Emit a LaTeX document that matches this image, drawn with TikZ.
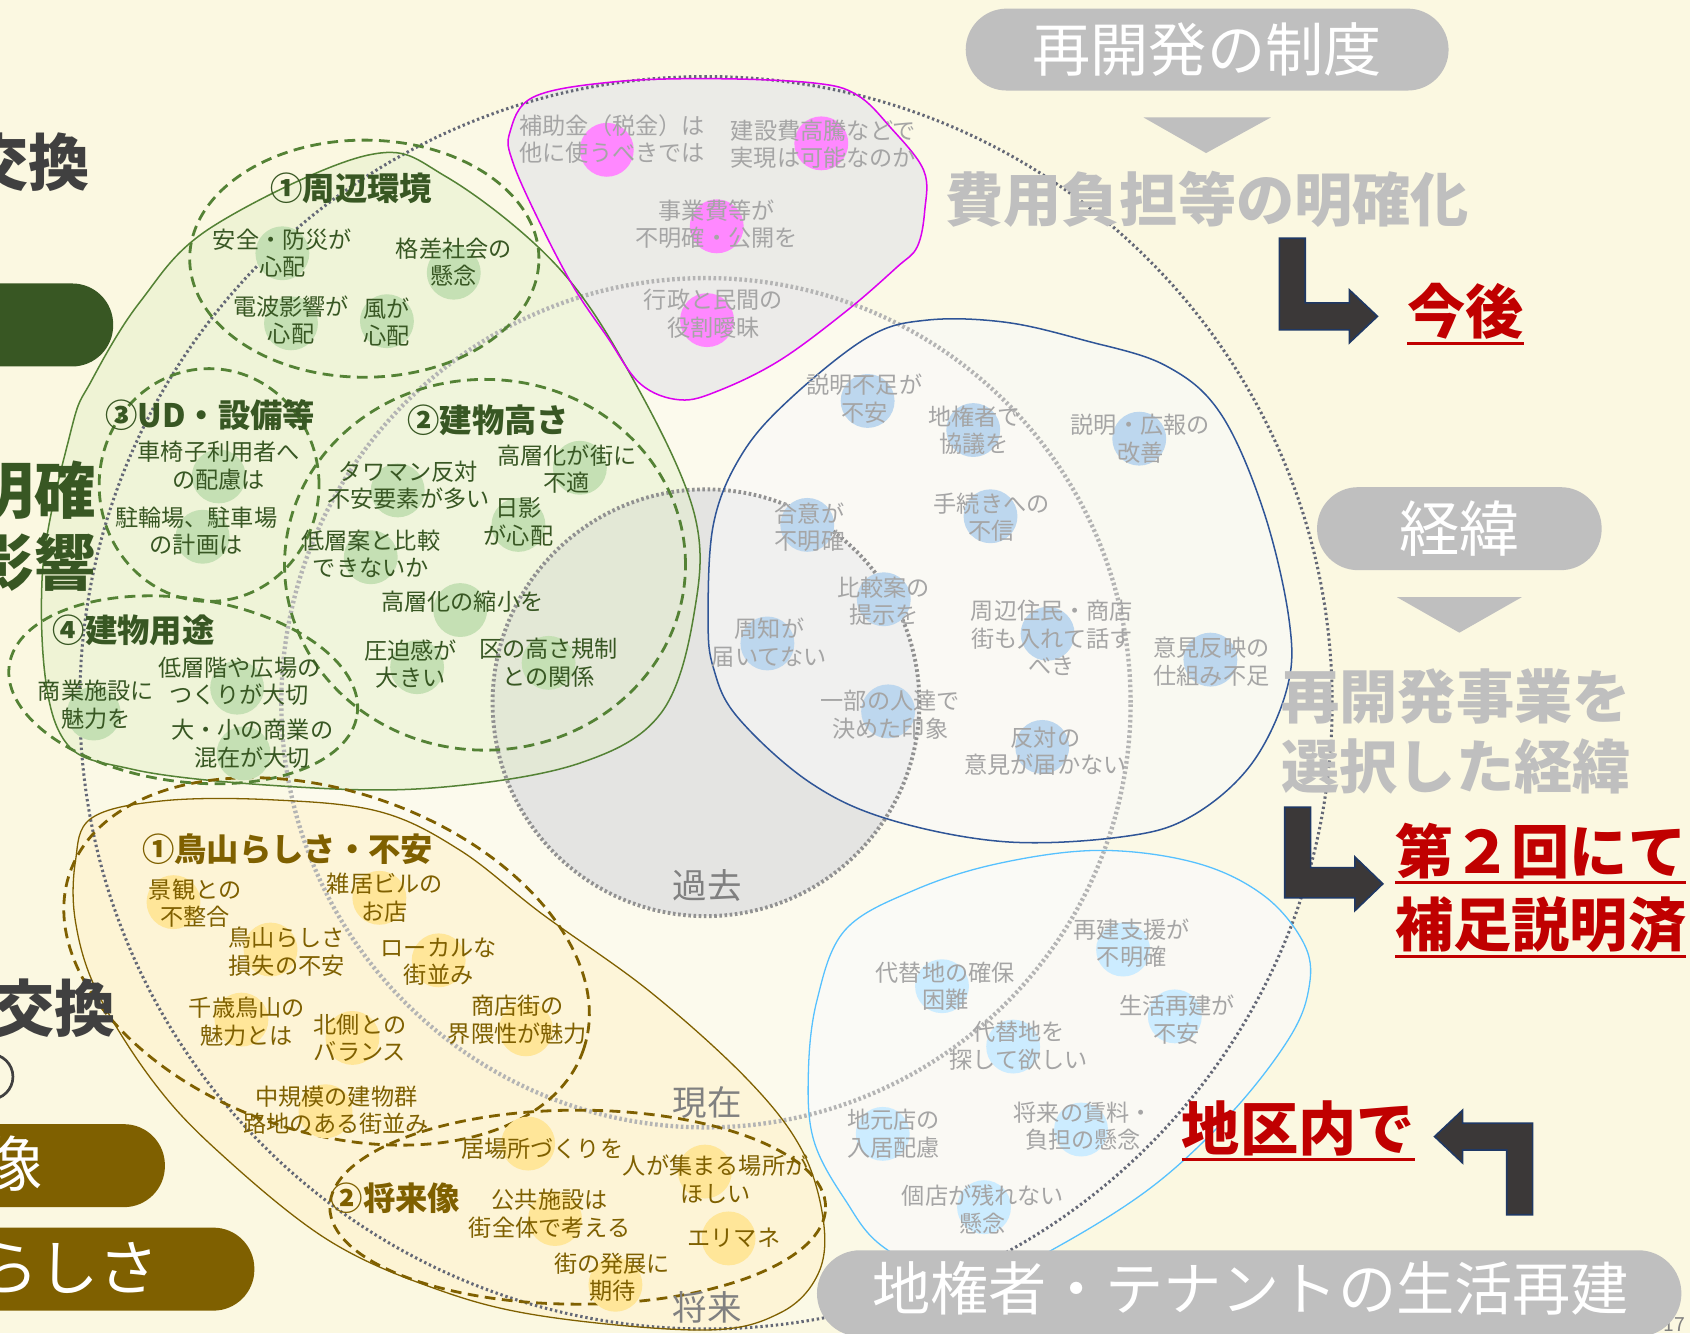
\documentclass[tikz,border=0pt]{standalone}
\usepackage{fontspec}
\setmainfont{Noto Sans CJK JP}
\definecolor{bgc}{RGB}{251,248,225}
\definecolor{gdark}{RGB}{56,87,35}
\definecolor{gline}{RGB}{84,130,53}
\definecolor{gfill}{RGB}{226,239,200}
\definecolor{gdotc}{RGB}{197,224,180}
\definecolor{bdark}{RGB}{127,96,0}
\definecolor{yfill}{RGB}{255,242,204}
\definecolor{ydotc}{RGB}{255,230,153}
\definecolor{mline}{RGB}{220,0,240}
\definecolor{mdotc}{RGB}{255,136,255}
\definecolor{navy}{RGB}{47,85,151}
\definecolor{bdotc}{RGB}{189,215,238}
\definecolor{skyl}{RGB}{86,193,255}
\definecolor{cdotc}{RGB}{204,236,255}
\definecolor{itemgray}{RGB}{165,165,165}
\definecolor{pillgray}{RGB}{191,191,191}
\definecolor{lblgray}{RGB}{128,128,128}
\definecolor{redc}{RGB}{192,0,0}
\definecolor{arrfill}{RGB}{59,56,56}
\definecolor{arrline}{RGB}{31,56,100}
\definecolor{darktxt}{RGB}{64,64,64}
\definecolor{outdot}{RGB}{100,104,118}
\definecolor{indot}{RGB}{180,180,180}
\definecolor{pastdot}{RGB}{145,145,145}
\definecolor{pastfill}{RGB}{228,228,226}
\tikzset{
 itm/.style={font=\fontsize{21.5}{25.5}\selectfont, align=center, inner sep=0pt},
 gitm/.style={itm,text=gdark},
 yitm/.style={itm,text=bdark},
 xitm/.style={itm,text=itemgray},
 ttl/.style={font=\fontsize{30}{34}\selectfont\bfseries, inner sep=0pt},
 gttl/.style={ttl,text=gdark},
 yttl/.style={ttl,text=bdark},
 dotbase/.style={circle,minimum size=50pt,inner sep=0pt,draw=none},
 gdot/.style={dotbase,fill=gdotc},
 ydot/.style={dotbase,fill=ydotc},
 mdot/.style={dotbase,fill=mdotc},
 bdot/.style={dotbase,fill=bdotc},
 cdot/.style={dotbase,fill=cdotc},
 bigtxt/.style={font=\fontsize{54}{60}\selectfont, inner sep=0pt},
 bigbold/.style={font=\fontsize{54}{60}\selectfont\bfseries, inner sep=0pt},
 redt/.style={bigbold, text=redc},
 uline/.style={redc, line width=2.8pt},
 tri/.style={fill=pillgray},
 arr/.style={fill=arrfill, draw=arrline, line width=1.5pt, line join=miter},
 pill/.style={rectangle, fill=pillgray, rounded corners=38pt, inner sep=0pt},
 gdash/.style={draw=gline, line width=2.6pt, dash pattern=on 10pt off 6pt},
 ydash/.style={draw=bdark, line width=2.6pt, dash pattern=on 10pt off 6pt},
 era/.style={font=\fontsize{32}{36}\selectfont, text=lblgray, inner sep=0pt},
 lefttxt/.style={font=\fontsize{57}{62}\selectfont\bfseries, inner sep=0pt, anchor=east},
}
\begin{document}
\begin{tikzpicture}[x=1pt,y=-1pt]
\useasboundingbox (0,0) rectangle (1568,1237);
\clip (0,0) rectangle (1568,1237);
\fill[bgc] (0,0) rectangle (1568,1237);

% concentric time circles (fills)
\fill[white, fill opacity=0.18] (655,652) circle [radius=581pt];
\fill[white, fill opacity=0.30] (655,652) circle [radius=394pt];
\fill[pastfill] (655,652) circle [radius=198pt];

% blob fills
\fill[gfill, fill opacity=0.45] plot[smooth cycle, tension=0.6] coordinates {(341,144) (414,164) (517,247) (588,353) (644,476) (644,569) (613,662) (538,708) (414,730) (290,731) (124,714) (54,677) (39,538) (66,399) (85,353) (130,280) (196,211)};
\fill[yfill, fill opacity=0.6] plot[smooth cycle, tension=0.6] coordinates {(85,759) (151,743) (251,742) (352,753) (427,789) (503,848) (603,920) (694,1002) (744,1067) (764,1133) (759,1182) (724,1218) (654,1234) (503,1221) (402,1195) (302,1149) (201,1067) (141,1002) (90,920) (70,855) (70,799)};
\fill[gray!18, fill opacity=0.8] plot[smooth cycle, tension=0.6] coordinates {(473,123) (495,90) (569,76) (662,73) (755,77) (795,88) (826,118) (857,158) (858,195) (851,229) (832,248) (786,288) (724,334) (668,362) (631,371) (594,356) (563,312) (532,266) (501,207) (476,151)};
\fill[white!95!gray, fill opacity=0.6] plot[smooth cycle, tension=0.6] coordinates {(657,575) (662,620) (684,665) (750,725) (824,760) (933,781) (1044,776) (1106,757) (1161,709) (1194,639) (1196,575) (1172,473) (1132,383) (1081,339) (1007,316) (933,299) (860,297) (805,313) (732,371) (688,422) (662,486)};
\fill[white!96!gray, fill opacity=0.7] plot[smooth cycle, tension=0.6] coordinates {(784,863) (848,826) (927,801) (1021,789) (1111,801) (1174,832) (1211,878) (1214,919) (1195,965) (1142,1033) (1069,1101) (979,1158) (900,1195) (821,1158) (784,1113) (755,1058) (750,996) (758,928)};

% dotted circle outlines
\draw[outdot, line width=2.8pt, dash pattern=on 2.2pt off 2.6pt] (655,652) circle [radius=581pt];
\draw[indot, line width=4pt, dash pattern=on 2.4pt off 2.4pt] (655,652) circle [radius=394pt];
\draw[pastdot, line width=3.6pt, dash pattern=on 2.4pt off 2.4pt] (655,652) circle [radius=198pt];

% blob outlines
\draw[gline, line width=1.4pt] plot[smooth cycle, tension=0.6] coordinates {(341,144) (414,164) (517,247) (588,353) (644,476) (644,569) (613,662) (538,708) (414,730) (290,731) (124,714) (54,677) (39,538) (66,399) (85,353) (130,280) (196,211)};
\draw[bdark, line width=1.2pt] plot[smooth cycle, tension=0.6] coordinates {(85,759) (151,743) (251,742) (352,753) (427,789) (503,848) (603,920) (694,1002) (744,1067) (764,1133) (759,1182) (724,1218) (654,1234) (503,1221) (402,1195) (302,1149) (201,1067) (141,1002) (90,920) (70,855) (70,799)};
\draw[mline, line width=1.4pt] plot[smooth cycle, tension=0.6] coordinates {(473,123) (495,90) (569,76) (662,73) (755,77) (795,88) (826,118) (857,158) (858,195) (851,229) (832,248) (786,288) (724,334) (668,362) (631,371) (594,356) (563,312) (532,266) (501,207) (476,151)};
\draw[navy, line width=1.4pt] plot[smooth cycle, tension=0.6] coordinates {(657,575) (662,620) (684,665) (750,725) (824,760) (933,781) (1044,776) (1106,757) (1161,709) (1194,639) (1196,575) (1172,473) (1132,383) (1081,339) (1007,316) (933,299) (860,297) (805,313) (732,371) (688,422) (662,486)};
\draw[skyl, line width=1.2pt] plot[smooth cycle, tension=0.6] coordinates {(784,863) (848,826) (927,801) (1021,789) (1111,801) (1174,832) (1211,878) (1214,919) (1195,965) (1142,1033) (1069,1101) (979,1158) (900,1195) (821,1158) (784,1113) (755,1058) (750,996) (758,928)};

% dashed sub-group ellipses
\draw[gdash] (338,240) ellipse [x radius=162pt, y radius=110pt];
\draw[gdash] (194,450) ellipse [x radius=102pt, y radius=108pt];
\draw[gdash] (450,524) ellipse [x radius=186pt, y radius=172pt];
\draw[gdash, rotate around={-8:(170,640)}] (170,640) ellipse [x radius=163pt, y radius=85pt];
\draw[ydash, rotate around={-19:(303,892)}] (303,892) ellipse [x radius=252pt, y radius=158pt];
\draw[ydash] (536,1120) ellipse [x radius=230pt, y radius=90pt];

% item dots
\node[gdot] (g1d) at (262,235) {};
\node[gdot] (g2d) at (421,253) {};
\node[gdot] (g3d) at (270,300) {};
\node[gdot] (g4d) at (359,298) {};
\node[gdot] (g5d) at (203,442) {};
\node[gdot] (g6d) at (188,498) {};
\node[gdot] (g7d) at (369,455) {};
\node[gdot] (g8d) at (538,434) {};
\node[gdot] (g9d) at (481,487) {};
\node[gdot] (g10d) at (344,517) {};
\node[gdot] (g11d) at (427,566) {};
\node[gdot] (g12d) at (387,619) {};
\node[gdot] (g13d) at (509,615) {};
\node[gdot] (g14d) at (87,662) {};
\node[gdot] (g15d) at (220,638) {};
\node[gdot] (g16d) at (226,699) {};

\node[mdot] (p1d) at (563,139) {};
\node[mdot] (p2d) at (762,133) {};
\node[mdot] (p3d) at (665,210) {};
\node[mdot] (p4d) at (656,297) {};

\node[bdot] (b1d) at (805,372) {};
\node[bdot] (b2d) at (903,399) {};
\node[bdot] (b3d) at (1057,407) {};
\node[bdot] (b4d) at (749,487) {};
\node[bdot] (b5d) at (919,479) {};
\node[bdot] (b6d) at (820,556) {};
\node[bdot] (b7d) at (712,597) {};
\node[bdot] (b8d) at (972,588) {};
\node[bdot] (b9d) at (1123,612) {};
\node[bdot] (b10d) at (824,660) {};
\node[bdot] (b11d) at (967,693) {};

\node[cdot] (c1d) at (1042,881) {};
\node[cdot] (c2d) at (874,915) {};
\node[cdot] (c3d) at (1090,943) {};
\node[cdot] (c4d) at (940,971) {};
\node[cdot] (c5d) at (819,1052) {};
\node[cdot] (c6d) at (1003,1048) {};
\node[cdot] (c7d) at (913,1120) {};

\node[ydot] (y1d) at (161,837) {};
\node[ydot] (y2d) at (352,833) {};
\node[ydot] (y3d) at (251,881) {};
\node[ydot] (y4d) at (407,891) {};
\node[ydot] (y5d) at (224,946) {};
\node[ydot] (y6d) at (327,963) {};
\node[ydot] (y7d) at (488,955) {};
\node[ydot] (y8d) at (302,1031) {};
\node[ydot] (y9d) at (490,1061) {};
\node[ydot] (y10d) at (654,1087) {};
\node[ydot] (y11d) at (515,1131) {};
\node[ydot] (y12d) at (676,1149) {};
\node[ydot] (y13d) at (571,1192) {};

% era labels
\node[era] (past) at (656,822) {過去};
\node[era] (now) at (656,1023) {現在};
\node[era] (future) at (656,1213) {将来};

% green group texts
\node[gttl] (gt1) at (326,175) {①周辺環境};
\node[gitm] (g1) at (262,235) {安全・防災が\\心配};
\node[gitm] (g2) at (421,243) {格差社会の\\懸念};
\node[gitm] (g3) at (270,297) {電波影響が\\心配};
\node[gitm] (g4) at (359,299) {風が\\心配};
\node[gttl] (gt3) at (195,385) {③UD・設備等};
\node[gitm] (g5) at (203,432) {車椅子利用者へ\\の配慮は};
\node[gitm] (g6) at (182,493) {駐輪場、駐車場\\の計画は};
\node[gttl] (gt2) at (453,390) {②建物高さ};
\node[gitm] (g7) at (379,450) {タワマン反対\\不安要素が多い};
\node[gitm] (g8) at (526,435) {高層化が街に\\不適};
\node[gitm] (g9) at (481,484) {日影\\が心配};
\node[gitm] (g10) at (344,514) {低層案と比較\\できないか};
\node[gitm] (g11) at (429,558) {高層化の縮小を};
\node[gitm] (g12) at (381,616) {圧迫感が\\大きい};
\node[gitm] (g13) at (509,615) {区の高さ規制\\との関係};
\node[gttl] (gt4) at (124,585) {④建物用途};
\node[gitm] (g14) at (89,654) {商業施設に\\魅力を};
\node[gitm] (g15) at (222,632) {低層階や広場の\\つくりが大切};
\node[gitm] (g16) at (234,690) {大・小の商業の\\混在が大切};

% purple group texts
\node[xitm] (p1) at (568,129) {補助金（税金）は\\他に使うべきでは};
\node[xitm] (p2) at (764,134) {建設費高騰などで\\実現は可能なのか};
\node[xitm] (p3) at (665,208) {事業費等が\\不明確・公開を};
\node[xitm] (p4) at (662,291) {行政と民間の\\役割曖昧};

% blue group texts
\node[xitm] (b1) at (802,370) {説明不足が\\不安};
\node[xitm] (b2) at (904,399) {地権者で\\協議を};
\node[xitm] (b3) at (1058,407) {説明・広報の\\改善};
\node[xitm] (b4) at (751,489) {合意が\\不明確};
\node[xitm] (b5) at (920,480) {手続きへの\\不信};
\node[xitm] (b6) at (820,558) {比較案の\\提示を};
\node[xitm] (b7) at (714,596) {周知が\\届いてない};
\node[xitm] (b8) at (976,592) {周辺住民・商店\\街も入れて話す\\べき};
\node[xitm] (b9) at (1124,614) {意見反映の\\仕組み不足};
\node[xitm] (b10) at (826,663) {一部の人達で\\決めた印象};
\node[xitm] (b11) at (970,697) {反対の\\意見が届かない};

% light-blue group texts
\node[xitm] (c1) at (1050,875) {再建支援が\\不明確};
\node[xitm] (c2) at (877,915) {代替地の確保\\困難};
\node[xitm] (c3) at (1092,946) {生活再建が\\不安};
\node[xitm] (c4) at (945,970) {代替地を\\探して欲しい};
\node[xitm] (c5) at (829,1052) {地元店の\\入居配慮};
\node[xitm] (c6) at (1005,1045) {将来の賃料・\\負担の懸念};
\node[xitm] (c7) at (912,1122) {個店が残れない\\懸念};

% brown group texts
\node[yttl] (yt1) at (267,788) {①鳥山らしさ・不安};
\node[yitm] (y1) at (181,838) {景観との\\不整合};
\node[yitm] (y2) at (357,833) {雑居ビルの\\お店};
\node[yitm] (y3) at (266,883) {鳥山らしさ\\損失の不安};
\node[yitm] (y4) at (407,892) {ローカルな\\街並み};
\node[yitm] (y5) at (229,948) {千歳鳥山の\\魅力とは};
\node[yitm] (y6) at (334,963) {北側との\\バランス};
\node[yitm] (y7) at (480,946) {商店街の\\界隈性が魅力};
\node[yitm] (y8) at (312,1030) {中規模の建物群\\路地のある街並み};
\node[yttl] (yt2) at (367,1112) {②将来像};
\node[yitm] (y9) at (503,1066) {居場所づくりを};
\node[yitm] (y10) at (664,1094) {人が集まる場所が\\ほしい};
\node[yitm] (y11) at (510,1126) {公共施設は\\街全体で考える};
\node[yitm] (y12) at (681,1148) {エリマネ};
\node[yitm] (y13) at (568,1185) {街の発展に\\期待};

% right side: 再開発の制度
\node[pill, minimum width=448pt, minimum height=76pt] (pill1) at (1120,46) {};
\node[bigtxt, text=white] (pill1t) at (1120,46) {再開発の制度};
\fill[tri] (1061,109) -- (1179,109) -- (1119,142) -- cycle;
\node[bigbold, text=pillgray] (cost) at (1120,185) {費用負担等の明確化};
\draw[arr] (1187,221) -- (1211,221) -- (1211,281) -- (1252,281) -- (1252,269) -- (1278,293.5) -- (1252,318) -- (1252,306) -- (1187,306) -- cycle;
\node[redt] (kongo) at (1360,289) {今後};
\draw[uline] ([yshift=-3pt]kongo.south west) -- ([yshift=-3pt]kongo.south east);

% 経緯
\node[pill, minimum width=264pt, minimum height=77pt] (pill2) at (1354,490.5) {};
\node[font=\fontsize{56}{62}\selectfont, inner sep=0pt, text=white] (pill2t) at (1354,490) {経緯};
\fill[tri] (1296,554) -- (1412,554) -- (1354,587) -- cycle;
\node[bigbold, text=pillgray] (hist1) at (1351,646) {再開発事業を};
\node[bigbold, text=pillgray] (hist2) at (1351,711) {選択した経緯};
\draw[arr] (1192,749) -- (1216,749) -- (1216,805) -- (1257,805) -- (1257,795) -- (1283,820) -- (1257,845) -- (1257,833) -- (1192,833) -- cycle;
\node[redt] (dai2) at (1429.5,790) {第２回にて};
\draw[uline] ([yshift=-3pt]dai2.south west) -- ([yshift=-3pt]dai2.south east);
\node[redt] (hosoku) at (1429.5,858) {補足説明済};
\draw[uline] ([yshift=-3pt]hosoku.south west) -- ([yshift=-3pt]hosoku.south east);

% 地区内で
\node[redt] (chiku) at (1204.5,1047) {地区内で};
\draw[uline] ([yshift=-3pt]chiku.south west) -- ([yshift=-3pt]chiku.south east);
\draw[arr] (1422,1042) -- (1422,1127) -- (1398,1127) -- (1398,1067) -- (1357,1067) -- (1357,1079) -- (1331,1054.5) -- (1357,1030) -- (1357,1042) -- cycle;

% page number (mostly hidden under the pill)
\node[font=\fontsize{18}{20}\selectfont, text=lblgray, inner sep=0pt, anchor=north west] (pgno) at (1543,1222) {17};
% 生活再建 pill
\node[pill, minimum width=802pt, minimum height=80pt, rounded corners=40pt] (pill3) at (1159,1200) {};
\node[bigtxt, text=white] (pill3t) at (1160.5,1195) {地権者・テナントの生活再建};

% left edge (cut) elements
\node[lefttxt, text=darktxt] (ex1) at (84,150) {交換};
\fill[gdark, rounded corners=38pt] (-80,263) rectangle (105,340);
\node[lefttxt, text=gdark] (mei) at (89,455) {明確};
\node[lefttxt, text=gdark] (eik) at (89,522) {影響};
\node[lefttxt, text=darktxt] (ex2) at (108,935) {交換};
\draw[darktxt, line width=2.5pt] (-9,999) circle [radius=21pt];
\fill[bdark, rounded corners=38pt] (-80,1043) rectangle (153,1120);
\node[lefttxt, text=white, font=\fontsize{56}{60}\selectfont] (zou) at (40,1080) {像};
\fill[bdark, rounded corners=38pt] (-80,1139) rectangle (236,1216);
\node[lefttxt, text=white, font=\fontsize{56}{60}\selectfont] (rashisa) at (148,1177) {らしさ};
\end{tikzpicture}
\end{document}
